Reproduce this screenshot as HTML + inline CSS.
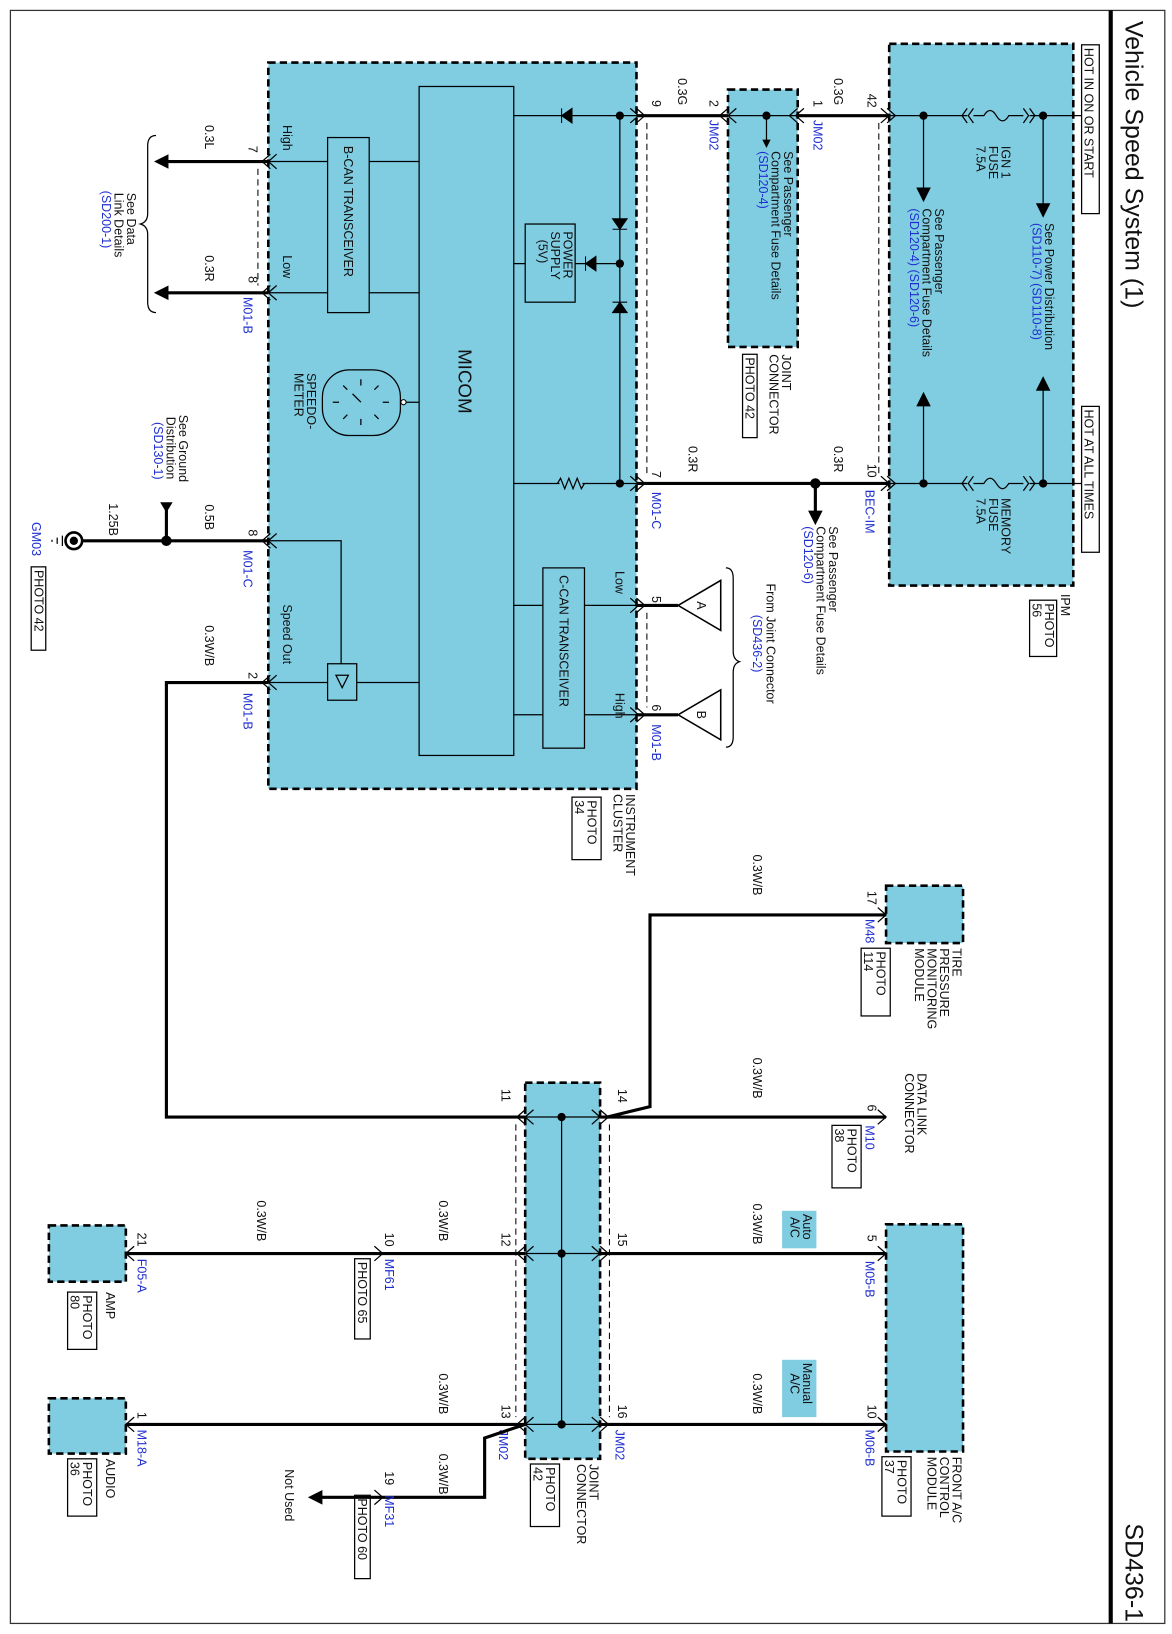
<!DOCTYPE html>
<html><head><meta charset="utf-8"><style>
html,body{margin:0;padding:0;background:#fff}
svg{display:block}
text{font-family:"Liberation Sans",sans-serif;font-size:12px;fill:#111}
.b{fill:#1f2fd0}
.w{stroke:#000;stroke-width:3;fill:none}
.t{stroke:#000;stroke-width:1.2;fill:none}
.bx{fill:#80cde2;stroke:#000;stroke-width:2.5;stroke-dasharray:7 4}
.ib{fill:none;stroke:#000;stroke-width:1.2}
.dl{stroke:#000;stroke-width:1;stroke-dasharray:6 4;fill:none}
</style></head><body>
<svg width="1172" height="1634" viewBox="0 0 1172 1634" xmlns="http://www.w3.org/2000/svg">
<defs>
<marker id="ar" markerWidth="8" markerHeight="8" refX="6" refY="4" orient="auto" markerUnits="userSpaceOnUse"><path d="M0,0 L8,4 L0,8 z" fill="#000"/></marker>
<marker id="arb" markerWidth="14" markerHeight="14" refX="10" refY="7" orient="auto" markerUnits="userSpaceOnUse"><path d="M0,0 L14,7 L0,14 z" fill="#000"/></marker>
</defs>
<g transform="scale(1.04,1.042)">
<rect x="10" y="10" width="1110" height="1548" fill="none" stroke="#333" stroke-width="1.2"/>
<line x1="1068" y1="10" x2="1068" y2="1558" stroke="#000" stroke-width="4"/>
<text transform="translate(1082 20) rotate(90)" style="font-size:24px">Vehicle Speed System (1)</text>
<text transform="translate(1082 1462) rotate(90)" style="font-size:24px">SD436-1</text>

<rect class="bx" x="855" y="42" width="177" height="520"/>
<rect class="bx" x="258" y="60" width="354" height="697"/>
<rect class="bx" x="700" y="86" width="67" height="247"/>
<rect class="bx" x="852" y="850" width="74" height="55"/>
<rect class="bx" x="505" y="1039" width="72" height="361"/>
<rect class="bx" x="852" y="1175" width="74" height="218"/>
<rect class="bx" x="47" y="1176" width="74" height="54"/>
<rect class="bx" x="47" y="1342" width="74" height="53"/>

<rect class="ib" x="1040" y="43" width="17" height="162"/>
<text transform="translate(1043 46) rotate(90)">HOT IN ON OR START</text>
<rect class="ib" x="1040" y="390" width="17" height="140"/>
<text transform="translate(1043 393) rotate(90)">HOT AT ALL TIMES</text>

<line class="t" x1="855" y1="111" x2="1040" y2="111"/>
<line class="t" x1="855" y1="464" x2="1040" y2="464"/>
<rect x="925" y="104" width="70" height="14" fill="#80cde2"/>
<rect x="925" y="457" width="70" height="14" fill="#80cde2"/>
<path class="t" d="M925,111 h5 M930,104 l-5,7 l5,7 M936,104 l-5,7 l5,7 M936,111 h10 q6,-10 12,0 q6,10 12,0 h14 M984,104 l5,7 l-5,7 M990,104 l5,7 l-5,7 M990,111 h5"/>
<path class="t" d="M925,464 h5 M930,457 l-5,7 l5,7 M936,457 l-5,7 l5,7 M936,464 h10 q6,-10 12,0 q6,10 12,0 h14 M984,457 l5,7 l-5,7 M990,457 l5,7 l-5,7 M990,464 h5"/>
<circle cx="888" cy="111" r="4"/><circle cx="1003" cy="111" r="4"/>
<circle cx="888" cy="464" r="4"/><circle cx="1003" cy="464" r="4"/>
<line class="t" x1="888" y1="111" x2="888" y2="190" marker-end="url(#arb)"/>
<line class="t" x1="1003" y1="111" x2="1003" y2="205" marker-end="url(#arb)"/>
<line class="t" x1="888" y1="464" x2="888" y2="380" marker-end="url(#arb)"/>
<line class="t" x1="1003" y1="464" x2="1003" y2="365" marker-end="url(#arb)"/>
<text transform="translate(963 140) rotate(90)">IGN 1</text>
<text transform="translate(951 140) rotate(90)">FUSE</text>
<text transform="translate(939 140) rotate(90)">7.5A</text>
<text transform="translate(963 478) rotate(90)">MEMORY</text>
<text transform="translate(951 478) rotate(90)">FUSE</text>
<text transform="translate(939 478) rotate(90)">7.5A</text>
<text transform="translate(1005 214) rotate(90)">See Power Distribution</text>
<text class="b" transform="translate(993 214) rotate(90)">(SD110-7) (SD110-8)</text>
<text transform="translate(899 200) rotate(90)">See Passenger</text>
<text transform="translate(887 200) rotate(90)">Compartment Fuse Details</text>
<text class="b" transform="translate(875 200) rotate(90)">(SD120-4) (SD120-6)</text>
<text transform="translate(1020 570) rotate(90)">IPM</text>
<rect class="ib" x="990" y="576" width="26" height="54"/>
<text transform="translate(1005 579) rotate(90)">PHOTO</text>
<text transform="translate(993 579) rotate(90)">56</text>

<line class="w" x1="612" y1="111" x2="700" y2="111"/>
<line class="w" x1="767" y1="111" x2="855" y2="111"/>
<line class="w" x1="612" y1="464" x2="855" y2="464"/>
<circle cx="784" cy="464" r="5"/>
<line class="w" x1="784" y1="464" x2="784" y2="500" marker-end="url(#arb)"/>
<path class="t" d="M847,104 l8,7 l-8,7 M853,104 l8,7 l-8,7 M847,457 l8,7 l-8,7 M853,457 l8,7 l-8,7 M612,104 l8,7 l-8,7 M606,104 l8,7 l-8,7 M612,457 l8,7 l-8,7 M606,457 l8,7 l-8,7"/>
<path class="t" d="M708,104 l-8,7 l8,7 M700,104 l-8,7 l8,7 M767,104 l-8,7 l8,7 M773,104 l-8,7 l8,7"/>
<line class="dl" x1="622" y1="118" x2="622" y2="457"/>
<line class="dl" x1="845" y1="118" x2="845" y2="457"/>
<text transform="translate(652 75) rotate(90)">0.3G</text>
<text transform="translate(627 96) rotate(90)">9</text>
<text transform="translate(682 96) rotate(90)">2</text>
<text class="b" transform="translate(682 115) rotate(90)">JM02</text>
<text transform="translate(782 96) rotate(90)">1</text>
<text class="b" transform="translate(782 115) rotate(90)">JM02</text>
<text transform="translate(802 75) rotate(90)">0.3G</text>
<text transform="translate(834 90) rotate(90)">42</text>
<text transform="translate(834 445) rotate(90)">10</text>
<text transform="translate(802 428) rotate(90)">0.3R</text>
<text class="b" transform="translate(832 470) rotate(90)">BEC-IM</text>
<text transform="translate(662 428) rotate(90)">0.3R</text>
<text transform="translate(627 452) rotate(90)">7</text>
<text class="b" transform="translate(627 472) rotate(90)">M01-C</text>
<text transform="translate(797 505) rotate(90)">See Passenger</text>
<text transform="translate(785 505) rotate(90)">Compartment Fuse Details</text>
<text class="b" transform="translate(773 505) rotate(90)">(SD120-6)</text>

<line class="t" x1="700" y1="111" x2="767" y2="111"/>
<circle cx="737" cy="111" r="4"/>
<line class="t" x1="737" y1="111" x2="737" y2="140" marker-end="url(#ar)"/>
<text transform="translate(754 145) rotate(90)">See Passenger</text>
<text transform="translate(742 145) rotate(90)">Compartment Fuse Details</text>
<text class="b" transform="translate(730 145) rotate(90)">(SD120-4)</text>
<text transform="translate(752 340) rotate(90)">JOINT</text>
<text transform="translate(740 340) rotate(90)">CONNECTOR</text>
<rect class="ib" x="714" y="340" width="14" height="80"/>
<text transform="translate(717 343) rotate(90)">PHOTO 42</text>

<rect class="ib" x="403" y="83" width="91" height="642"/>
<text transform="translate(441 335) rotate(90)" style="font-size:18px">MICOM</text>
<rect class="ib" x="315" y="132" width="40" height="168"/>
<text transform="translate(331 140) rotate(90)">B-CAN TRANSCEIVER</text>
<rect class="ib" x="505" y="215" width="48" height="75"/>
<text transform="translate(542 222) rotate(90)">POWER</text>
<text transform="translate(530 222) rotate(90)">SUPPLY</text>
<text transform="translate(518 230) rotate(90)">(5V)</text>
<rect class="ib" x="522" y="545" width="40" height="173"/>
<text transform="translate(538 552) rotate(90)">C-CAN TRANSCEIVER</text>
<line class="t" x1="494" y1="111" x2="612" y2="111"/>
<path d="M540,104 v14 M540,111 l10,-7 v14 z" fill="#000" stroke="#000"/>
<circle cx="596" cy="111" r="4"/>
<line class="t" x1="596" y1="111" x2="596" y2="464"/>
<path d="M589,220 h14 M596,220 l-7,-10 h14 z" fill="#000" stroke="#000"/>
<path d="M589,290 h14 M596,290 l-7,10 h14 z" fill="#000" stroke="#000"/>
<circle cx="596" cy="253" r="4"/>
<line class="t" x1="553" y1="253" x2="596" y2="253"/>
<path d="M563,246 v14 M563,253 l10,-7 v14 z" fill="#000" stroke="#000"/>
<line class="t" x1="494" y1="253" x2="505" y2="253"/>
<line class="t" x1="494" y1="464" x2="612" y2="464"/>
<rect x="538" y="458" width="22" height="12" fill="#80cde2"/>
<path class="t" d="M536,464 l3,-5 l4,10 l4,-10 l4,10 l4,-10 l4,10 l3,-5"/>
<circle cx="596" cy="464" r="4"/>
<line class="t" x1="258" y1="155" x2="315" y2="155"/><line class="t" x1="355" y1="155" x2="403" y2="155"/>
<line class="t" x1="258" y1="281" x2="315" y2="281"/><line class="t" x1="355" y1="281" x2="403" y2="281"/>
<line class="t" x1="494" y1="581" x2="522" y2="581"/><line class="t" x1="562" y1="581" x2="612" y2="581"/>
<line class="t" x1="494" y1="686" x2="522" y2="686"/><line class="t" x1="562" y1="686" x2="612" y2="686"/>
<rect x="310" y="355" width="75" height="63" rx="26" fill="none" stroke="#000" stroke-width="1.2"/>
<line class="t" x1="385" y1="386" x2="403" y2="386"/><circle cx="388" cy="386" r="2.5" fill="#fff" stroke="#000"/>
<path class="t" d="M347,364 v6 M347,402 v6 M320,386 h6 M368,386 h6 M330,370 l4,4 M364,370 l-4,4 M330,402 l4,-4 M364,402 l-4,-4 M347,386 l-8,-8"/>
<text transform="translate(295 358) rotate(90)">SPEEDO-</text>
<text transform="translate(283 358) rotate(90)">METER</text>
<rect class="ib" x="315" y="637" width="28" height="35"/>
<path class="t" d="M323,648 h12 l-6,12 z"/>
<path class="t" d="M258,519 h70 v118 M258,655 h57 M343,655 h60"/>
<text transform="translate(272 580) rotate(90)">Speed Out</text>
<text transform="translate(272 120) rotate(90)">High</text>
<text transform="translate(272 245) rotate(90)">Low</text>
<text transform="translate(592 548) rotate(90)">Low</text>
<text transform="translate(592 665) rotate(90)">High</text>

<line class="w" x1="258" y1="155" x2="152" y2="155" marker-end="url(#arb)"/>
<line class="w" x1="258" y1="281" x2="152" y2="281" marker-end="url(#arb)"/>
<path class="t" d="M266,148 l-8,7 l8,7 M260,148 l-8,7 l8,7 M266,274 l-8,7 l8,7 M260,274 l-8,7 l8,7 M266,512 l-8,7 l8,7 M260,512 l-8,7 l8,7 M266,648 l-8,7 l8,7 M260,648 l-8,7 l8,7"/>
<line class="dl" x1="248" y1="162" x2="248" y2="274"/>
<text transform="translate(239 140) rotate(90)">7</text>
<text transform="translate(239 265) rotate(90)">8</text>
<text class="b" transform="translate(234 285) rotate(90)">M01-B</text>
<text transform="translate(197 120) rotate(90)">0.3L</text>
<text transform="translate(197 245) rotate(90)">0.3R</text>
<path class="t" d="M150,130 q-8,0 -8,10 v65 q0,8 -7,10 q7,2 7,10 v65 q0,10 8,10"/>
<text transform="translate(122 185) rotate(90)">See Data</text>
<text transform="translate(110 185) rotate(90)">Link Details</text>
<text class="b" transform="translate(98 183) rotate(90)">(SD200-1)</text>

<line class="w" x1="258" y1="519" x2="80" y2="519"/>
<circle cx="160" cy="519" r="5"/>
<line class="w" x1="160" y1="519" x2="160" y2="487"/>
<path d="M154,482 h12 l-6,10 z" fill="#000"/>
<circle cx="71" cy="519" r="8" fill="#fff" stroke="#000" stroke-width="2.5"/>
<circle cx="71" cy="519" r="4"/>
<path class="t" d="M60,514 v10 M55,516 v6 M50,518 v2"/>
<text transform="translate(105 483) rotate(90)">1.25B</text>
<text transform="translate(239 508) rotate(90)">8</text>
<text class="b" transform="translate(234 528) rotate(90)">M01-C</text>
<text transform="translate(197 484) rotate(90)">0.5B</text>
<text transform="translate(172 398) rotate(90)">See Ground</text>
<text transform="translate(160 400) rotate(90)">Distribution</text>
<text class="b" transform="translate(148 405) rotate(90)">(SD130-1)</text>
<text class="b" transform="translate(31 501) rotate(90)">GM03</text>
<rect class="ib" x="30" y="544" width="14" height="80"/>
<text transform="translate(33 547) rotate(90)">PHOTO 42</text>

<path class="w" d="M258,655 H160 V1072 H505"/>
<text transform="translate(239 645) rotate(90)">2</text>
<text class="b" transform="translate(234 665) rotate(90)">M01-B</text>
<text transform="translate(197 600) rotate(90)">0.3W/B</text>

<line class="w" x1="612" y1="581" x2="652" y2="581"/>
<line class="w" x1="612" y1="686" x2="652" y2="686"/>
<path d="M652,581 L693,557 V605 Z M652,686 L693,662 V710 Z" fill="#fff" stroke="#000" stroke-width="1.5"/>
<text transform="translate(670 577) rotate(90)">A</text>
<text transform="translate(670 682) rotate(90)">B</text>
<path class="t" d="M612,574 l8,7 l-8,7 M606,574 l8,7 l-8,7 M612,679 l8,7 l-8,7 M606,679 l8,7 l-8,7"/>
<line class="dl" x1="622" y1="588" x2="622" y2="679"/>
<text transform="translate(627 572) rotate(90)">5</text>
<text transform="translate(627 676) rotate(90)">6</text>
<text class="b" transform="translate(627 695) rotate(90)">M01-B</text>
<path class="t" d="M698,545 q7,0 7,10 v70 q0,8 6,10 q-6,2 -6,10 v62 q0,10 -7,10"/>
<text transform="translate(737 560) rotate(90)">From Joint Connector</text>
<text class="b" transform="translate(724 590) rotate(90)">(SD436-2)</text>
<text transform="translate(602 762) rotate(90)">INSTRUMENT</text>
<text transform="translate(590 762) rotate(90)">CLUSTER</text>
<rect class="ib" x="550" y="765" width="28" height="60"/>
<text transform="translate(565 768) rotate(90)">PHOTO</text>
<text transform="translate(553 768) rotate(90)">34</text>

<path class="w" d="M852,878 H625 V1062 L584,1072"/>
<path class="t" d="M844,871 l8,7 l-8,7"/>
<text transform="translate(834 855) rotate(90)">17</text>
<text class="b" transform="translate(832 882) rotate(90)">M48</text>
<text transform="translate(724 820) rotate(90)">0.3W/B</text>
<text transform="translate(916 910) rotate(90)">TIRE</text>
<text transform="translate(904 910) rotate(90)">PRESSURE</text>
<text transform="translate(892 910) rotate(90)">MONITORING</text>
<text transform="translate(880 910) rotate(90)">MODULE</text>
<rect class="ib" x="828" y="910" width="28" height="65"/>
<text transform="translate(843 913) rotate(90)">PHOTO</text>
<text transform="translate(831 913) rotate(90)">114</text>

<line class="w" x1="577" y1="1072" x2="852" y2="1072"/>
<path class="t" d="M844,1065 l8,7 l-8,7"/>
<text transform="translate(882 1030) rotate(90)">DATA LINK</text>
<text transform="translate(870 1030) rotate(90)">CONNECTOR</text>
<text transform="translate(834 1060) rotate(90)">6</text>
<text class="b" transform="translate(832 1080) rotate(90)">M10</text>
<rect class="ib" x="800" y="1080" width="28" height="60"/>
<text transform="translate(815 1083) rotate(90)">PHOTO</text>
<text transform="translate(803 1083) rotate(90)">38</text>
<text transform="translate(724 1015) rotate(90)">0.3W/B</text>

<line class="t" x1="540" y1="1072" x2="540" y2="1367"/>
<line class="t" x1="505" y1="1072" x2="577" y2="1072"/>
<line class="t" x1="505" y1="1203" x2="577" y2="1203"/>
<line class="t" x1="505" y1="1367" x2="577" y2="1367"/>
<circle cx="540" cy="1072" r="4"/><circle cx="540" cy="1203" r="4"/><circle cx="540" cy="1367" r="4"/>
<path class="t" d="M513,1065 l-8,7 l8,7 M505,1065 l-8,7 l8,7 M569,1065 l8,7 l-8,7 M577,1065 l8,7 l-8,7 M513,1196 l-8,7 l8,7 M505,1196 l-8,7 l8,7 M569,1196 l8,7 l-8,7 M577,1196 l8,7 l-8,7 M513,1360 l-8,7 l8,7 M505,1360 l-8,7 l8,7 M569,1360 l8,7 l-8,7 M577,1360 l8,7 l-8,7"/>
<line class="dl" x1="496" y1="1079" x2="496" y2="1360"/>
<line class="dl" x1="586" y1="1079" x2="586" y2="1360"/>
<text transform="translate(594 1045) rotate(90)">14</text>
<text transform="translate(482 1045) rotate(90)">11</text>
<text transform="translate(594 1183) rotate(90)">15</text>
<text transform="translate(482 1183) rotate(90)">12</text>
<text transform="translate(594 1348) rotate(90)">16</text>
<text transform="translate(482 1348) rotate(90)">13</text>
<text class="b" transform="translate(592 1372) rotate(90)">JM02</text>
<text class="b" transform="translate(480 1372) rotate(90)">JM02</text>
<text transform="translate(567 1405) rotate(90)">JOINT</text>
<text transform="translate(555 1405) rotate(90)">CONNECTOR</text>
<rect class="ib" x="510" y="1405" width="28" height="60"/>
<text transform="translate(525 1408) rotate(90)">PHOTO</text>
<text transform="translate(513 1408) rotate(90)">42</text>

<line class="w" x1="577" y1="1203" x2="852" y2="1203"/>
<line class="w" x1="577" y1="1367" x2="852" y2="1367"/>
<path class="t" d="M844,1196 l8,7 l-8,7 M844,1360 l8,7 l-8,7"/>
<text transform="translate(724 1155) rotate(90)">0.3W/B</text>
<text transform="translate(724 1318) rotate(90)">0.3W/B</text>
<rect x="752" y="1162" width="33" height="36" fill="#80cde2"/>
<text transform="translate(772 1165) rotate(90)">Auto</text>
<text transform="translate(760 1168) rotate(90)">A/C</text>
<rect x="752" y="1305" width="33" height="55" fill="#80cde2"/>
<text transform="translate(772 1308) rotate(90)">Manual</text>
<text transform="translate(760 1318) rotate(90)">A/C</text>
<text transform="translate(834 1185) rotate(90)">5</text>
<text class="b" transform="translate(832 1210) rotate(90)">M05-B</text>
<text transform="translate(834 1348) rotate(90)">10</text>
<text class="b" transform="translate(832 1372) rotate(90)">M06-B</text>
<text transform="translate(916 1398) rotate(90)">FRONT A/C</text>
<text transform="translate(904 1398) rotate(90)">CONTROL</text>
<text transform="translate(892 1398) rotate(90)">MODULE</text>
<rect class="ib" x="848" y="1398" width="28" height="57"/>
<text transform="translate(863 1401) rotate(90)">PHOTO</text>
<text transform="translate(851 1401) rotate(90)">37</text>

<line class="w" x1="121" y1="1203" x2="505" y2="1203"/>
<line class="w" x1="121" y1="1367" x2="505" y2="1367"/>
<path class="w" d="M505,1367 L466,1380 V1437 H300" marker-end="url(#arb)"/>
<path class="t" d="M129,1196 l-8,7 l8,7 M129,1360 l-8,7 l8,7 M360,1196 l8,7 l-8,7 M360,1430 l8,7 l-8,7"/>
<text transform="translate(422 1152) rotate(90)">0.3W/B</text>
<text transform="translate(247 1152) rotate(90)">0.3W/B</text>
<text transform="translate(370 1183) rotate(90)">10</text>
<text class="b" transform="translate(370 1208) rotate(90)">MF61</text>
<rect class="ib" x="341" y="1208" width="15" height="77"/>
<text transform="translate(344 1211) rotate(90)">PHOTO 65</text>
<text transform="translate(132 1183) rotate(90)">21</text>
<text class="b" transform="translate(132 1208) rotate(90)">F05-A</text>
<text transform="translate(102 1240) rotate(90)">AMP</text>
<rect class="ib" x="65" y="1240" width="28" height="55"/>
<text transform="translate(80 1243) rotate(90)">PHOTO</text>
<text transform="translate(68 1243) rotate(90)">80</text>
<text transform="translate(422 1318) rotate(90)">0.3W/B</text>
<text transform="translate(422 1395) rotate(90)">0.3W/B</text>
<text transform="translate(370 1412) rotate(90)">19</text>
<text class="b" transform="translate(370 1435) rotate(90)">MF31</text>
<rect class="ib" x="341" y="1435" width="15" height="80"/>
<text transform="translate(344 1438) rotate(90)">PHOTO 60</text>
<text transform="translate(274 1410) rotate(90)">Not Used</text>
<text transform="translate(132 1355) rotate(90)">1</text>
<text class="b" transform="translate(132 1372) rotate(90)">M18-A</text>
<text transform="translate(102 1400) rotate(90)">AUDIO</text>
<rect class="ib" x="65" y="1400" width="28" height="55"/>
<text transform="translate(80 1403) rotate(90)">PHOTO</text>
<text transform="translate(68 1403) rotate(90)">36</text>
</g>
</svg>
</body></html>
